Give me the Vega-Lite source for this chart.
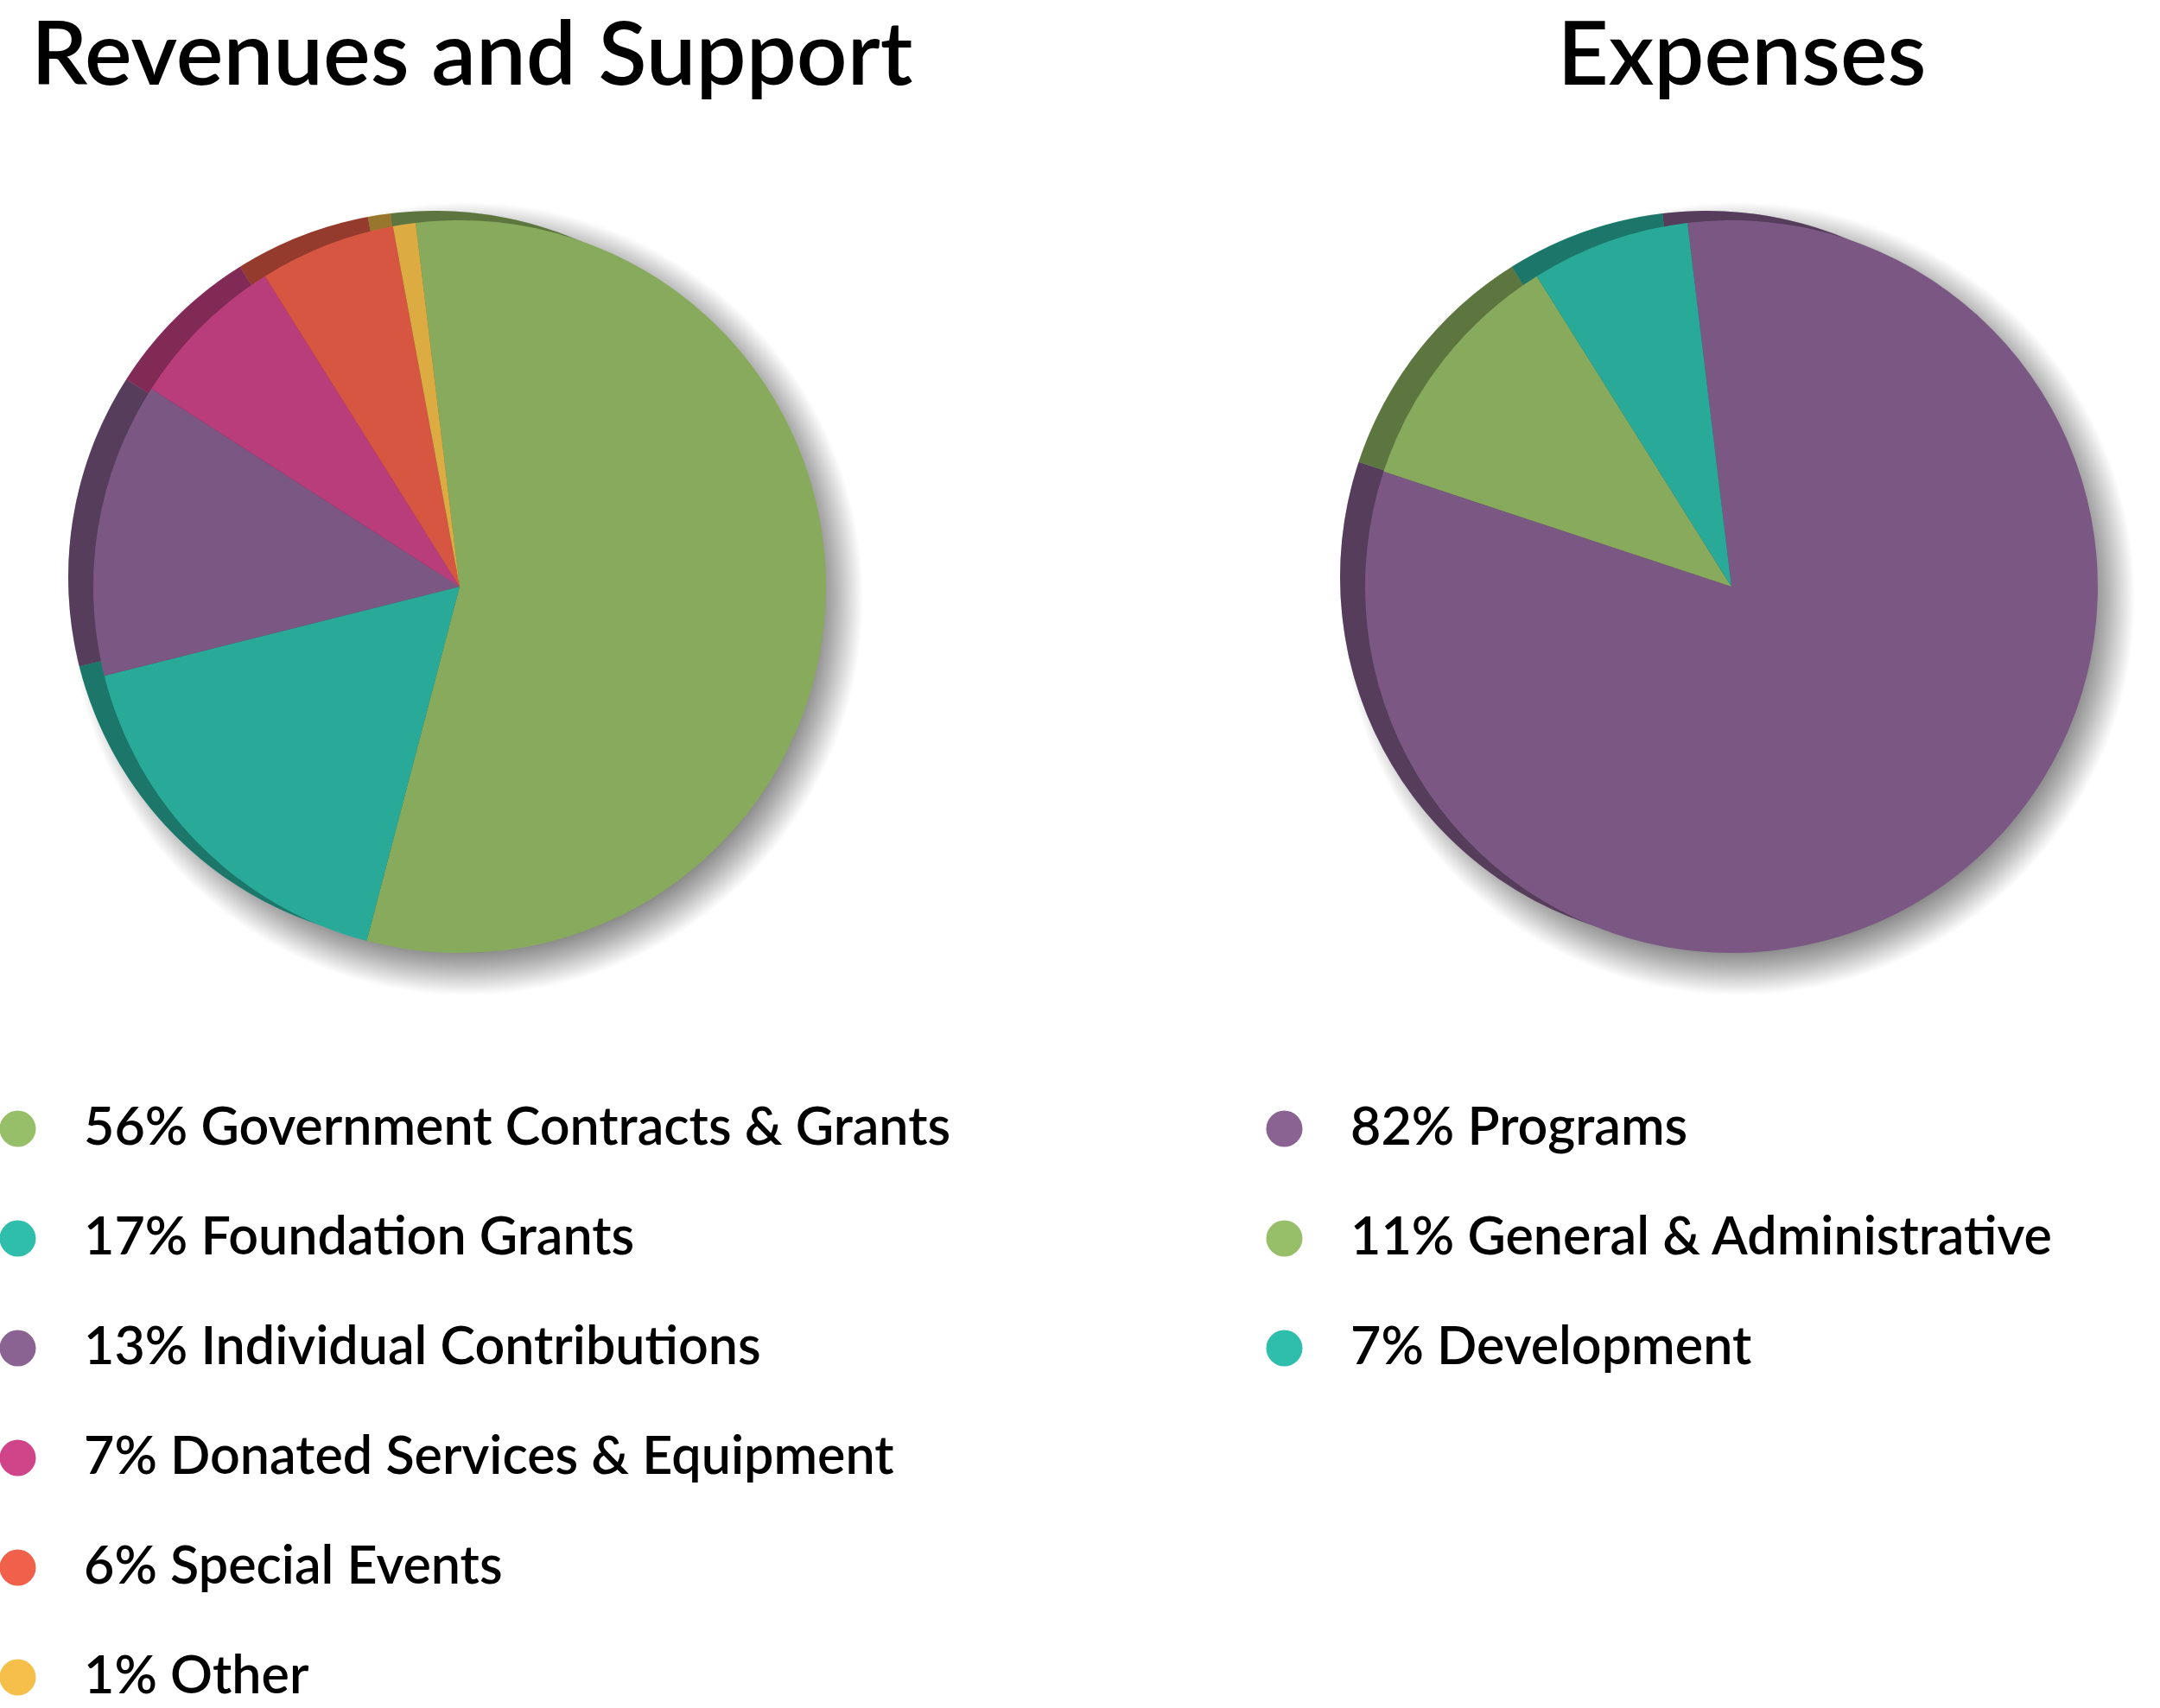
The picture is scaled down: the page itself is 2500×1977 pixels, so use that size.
{
  "$schema": "https://vega.github.io/schema/vega-lite/v6.json",
  "padding": {"left": -10, "top": 16, "right": 0, "bottom": 0},
  "background": "white",
  "config": {"view": {"stroke": null}, "font": "Lato"},
  "datasets": {
    "revenues": [
      {"rank": 1, "label": "56% Government Contracts & Grants", "value": 56},
      {"rank": 2, "label": "17% Foundation Grants", "value": 17},
      {"rank": 3, "label": "13% Individual Contributions", "value": 13},
      {"rank": 4, "label": "7% Donated Services & Equipment", "value": 7},
      {"rank": 5, "label": "6% Special Events", "value": 6},
      {"rank": 6, "label": "1% Other", "value": 1}
    ],
    "expenses": [
      {"rank": 1, "label": "82% Programs", "value": 82},
      {"rank": 2, "label": "11% General & Administrative", "value": 11},
      {"rank": 3, "label": "7% Development", "value": 7}
    ],
    "one": [{"k": 1}]
  },
  "spacing": 444,
  "bounds": "flush",
  "resolve": {"scale": {"color": "independent", "theta": "independent"}, "legend": {"color": "independent"}},
  "hconcat": [
    {
      "width": 1064,
      "height": 1062,
      "title": {"text": "Revenues and Support", "anchor": "start", "dx": 46, "fontSize": 103, "fontWeight": 600, "font": "Lato", "color": "#000", "baseline": "alphabetic", "offset": -53},
      "layer": [
        {
          "data": {"name": "one"},
          "mark": {"type": "arc", "radius": 459, "theta": 0, "theta2": 6.2832, "xOffset": 8, "yOffset": 14,
            "fill": {"gradient": "radial", "x1": 0.5, "y1": 0.5, "r1": 0, "x2": 0.5, "y2": 0.5, "r2": 0.5,
              "stops": [{"offset": 0, "color": "rgba(0,0,0,0.6)"}, {"offset": 0.85, "color": "rgba(0,0,0,0.6)"}, {"offset": 0.93, "color": "rgba(0,0,0,0.3)"}, {"offset": 1, "color": "rgba(0,0,0,0)"}]}},
          "encoding": {}
        },
        {
          "data": {"name": "revenues"},
          "transform": [{"stack": "value", "groupby": [], "sort": [{"field": "rank", "order": "ascending"}], "as": ["v0", "v1"]}],
          "mark": {"type": "arc", "radius": 424, "xOffset": -29, "yOffset": -11},
          "encoding": {
            "theta": {"field": "v0", "type": "quantitative", "scale": {"domain": [0, 100], "range": [-0.1204, 6.1628]}},
            "theta2": {"field": "v1"},
            "color": {"field": "label", "type": "nominal", "sort": null,
              "scale": {"domain": ["56% Government Contracts & Grants", "17% Foundation Grants", "13% Individual Contributions", "7% Donated Services & Equipment", "6% Special Events", "1% Other"],
                "range": ["#97BE68", "#2EBEAB", "#8A6393", "#D04589", "#F0604A", "#F5BF4A"]},
              "legend": {"orient": "none", "legendX": -10, "legendY": 1128, "title": null, "symbolType": "circle", "symbolSize": 1764, "symbolStrokeWidth": 0, "symbolOpacity": 1, "labelFontSize": 61, "labelFont": "Lato", "labelFontWeight": 600, "labelColor": "#000", "labelLimit": 3000, "labelOffset": 46, "rowPadding": 65, "padding": 0, "direction": "vertical"}}
          }
        },
        {
          "data": {"name": "one"},
          "mark": {"type": "arc", "radius": 424, "theta": 0, "theta2": 6.2832, "xOffset": -29, "yOffset": -11, "fill": "#000", "fillOpacity": 0.38},
          "encoding": {}
        },
        {
          "data": {"name": "revenues"},
          "transform": [{"stack": "value", "groupby": [], "sort": [{"field": "rank", "order": "ascending"}], "as": ["v0", "v1"]}],
          "mark": {"type": "arc", "radius": 424},
          "encoding": {
            "theta": {"field": "v0", "type": "quantitative", "scale": {"domain": [0, 100], "range": [-0.1204, 6.1628]}},
            "theta2": {"field": "v1"},
            "color": {"field": "label", "type": "nominal", "sort": null,
              "scale": {"domain": ["56% Government Contracts & Grants", "17% Foundation Grants", "13% Individual Contributions", "7% Donated Services & Equipment", "6% Special Events", "1% Other"],
                "range": ["#97BE68", "#2EBEAB", "#8A6393", "#D04589", "#F0604A", "#F5BF4A"]},
              "legend": {"orient": "none", "legendX": -10, "legendY": 1128, "title": null, "symbolType": "circle", "symbolSize": 1764, "symbolStrokeWidth": 0, "symbolOpacity": 1, "labelFontSize": 61, "labelFont": "Lato", "labelFontWeight": 600, "labelColor": "#000", "labelLimit": 3000, "labelOffset": 46, "rowPadding": 65, "padding": 0, "direction": "vertical"}}
          }
        },
        {
          "data": {"name": "one"},
          "mark": {"type": "arc", "radius": 424, "theta": 0, "theta2": 6.2832, "fill": "#000", "fillOpacity": 0.1},
          "encoding": {}
        }
      ]
    },
    {
      "width": 992,
      "height": 1062,
      "title": {"text": "Expenses", "anchor": "middle", "dx": 12, "fontSize": 103, "fontWeight": 600, "font": "Lato", "color": "#000", "baseline": "alphabetic", "offset": -53},
      "layer": [
        {
          "data": {"name": "one"},
          "mark": {"type": "arc", "radius": 459, "theta": 0, "theta2": 6.2832, "xOffset": 8, "yOffset": 14,
            "fill": {"gradient": "radial", "x1": 0.5, "y1": 0.5, "r1": 0, "x2": 0.5, "y2": 0.5, "r2": 0.5,
              "stops": [{"offset": 0, "color": "rgba(0,0,0,0.6)"}, {"offset": 0.85, "color": "rgba(0,0,0,0.6)"}, {"offset": 0.93, "color": "rgba(0,0,0,0.3)"}, {"offset": 1, "color": "rgba(0,0,0,0)"}]}},
          "encoding": {}
        },
        {
          "data": {"name": "expenses"},
          "transform": [{"stack": "value", "groupby": [], "sort": [{"field": "rank", "order": "ascending"}], "as": ["v0", "v1"]}],
          "mark": {"type": "arc", "radius": 424, "xOffset": -29, "yOffset": -11},
          "encoding": {
            "theta": {"field": "v0", "type": "quantitative", "scale": {"domain": [0, 100], "range": [-0.1204, 6.1628]}},
            "theta2": {"field": "v1"},
            "color": {"field": "label", "type": "nominal", "sort": null,
              "scale": {"domain": ["82% Programs", "11% General & Administrative", "7% Development"],
                "range": ["#8A6393", "#97BE68", "#2EBEAB"]},
              "legend": {"orient": "none", "legendX": -52, "legendY": 1128, "title": null, "symbolType": "circle", "symbolSize": 1764, "symbolStrokeWidth": 0, "symbolOpacity": 1, "labelFontSize": 61, "labelFont": "Lato", "labelFontWeight": 600, "labelColor": "#000", "labelLimit": 3000, "labelOffset": 46, "rowPadding": 65, "padding": 0, "direction": "vertical"}}
          }
        },
        {
          "data": {"name": "one"},
          "mark": {"type": "arc", "radius": 424, "theta": 0, "theta2": 6.2832, "xOffset": -29, "yOffset": -11, "fill": "#000", "fillOpacity": 0.38},
          "encoding": {}
        },
        {
          "data": {"name": "expenses"},
          "transform": [{"stack": "value", "groupby": [], "sort": [{"field": "rank", "order": "ascending"}], "as": ["v0", "v1"]}],
          "mark": {"type": "arc", "radius": 424},
          "encoding": {
            "theta": {"field": "v0", "type": "quantitative", "scale": {"domain": [0, 100], "range": [-0.1204, 6.1628]}},
            "theta2": {"field": "v1"},
            "color": {"field": "label", "type": "nominal", "sort": null,
              "scale": {"domain": ["82% Programs", "11% General & Administrative", "7% Development"],
                "range": ["#8A6393", "#97BE68", "#2EBEAB"]},
              "legend": {"orient": "none", "legendX": -52, "legendY": 1128, "title": null, "symbolType": "circle", "symbolSize": 1764, "symbolStrokeWidth": 0, "symbolOpacity": 1, "labelFontSize": 61, "labelFont": "Lato", "labelFontWeight": 600, "labelColor": "#000", "labelLimit": 3000, "labelOffset": 46, "rowPadding": 65, "padding": 0, "direction": "vertical"}}
          }
        },
        {
          "data": {"name": "one"},
          "mark": {"type": "arc", "radius": 424, "theta": 0, "theta2": 6.2832, "fill": "#000", "fillOpacity": 0.1},
          "encoding": {}
        }
      ]
    }
  ]
}
